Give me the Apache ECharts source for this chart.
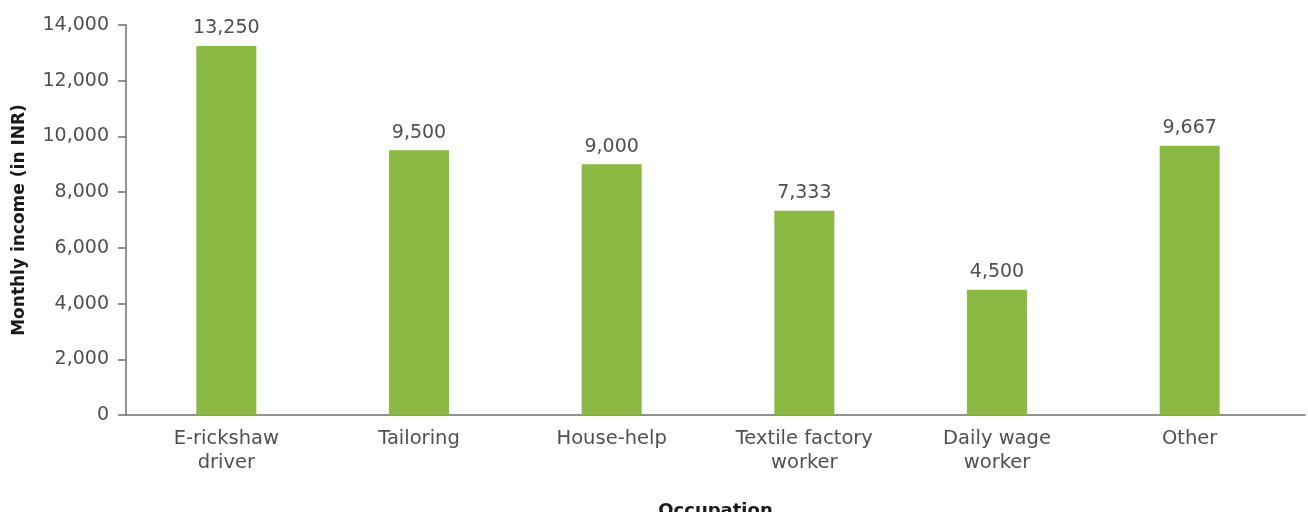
<!DOCTYPE html>
<html>
<head>
<meta charset="utf-8">
<script src="https://cdn.jsdelivr.net/npm/echarts@6/dist/echarts.min.js"></script>
<style>
  html, body { margin: 0; padding: 0; background: #fff; }
  #chart { width: 1308px; height: 512px; }
</style>
</head>
<body>
<div id="chart"></div>
<script>
// occupations and average monthly income
const categories = ['E-rickshaw\ndriver', 'Tailoring', 'House-help', 'Textile factory\nworker', 'Daily wage\nworker', 'Other']
const incomes = [13250, 9500, 9000, 7333, 4500, 9667]
const yTicks = [0, 2000, 4000, 6000, 8000, 10000, 12000, 14000]

const font = 'DejaVu Sans'
const textColor = '#505050'
const axisColor = '#6e6e6e'
const fmt = v => v.toLocaleString('en-US')

const chart = echarts.init(document.getElementById('chart'))

chart.setOption({
  animation: false,
  grid: [
    { left: 130, right: 22, top: 25, bottom: 97, outerBoundsMode: 'none' },
    // wider grid only to carry the full-length baseline and axis title
    { left: 126, right: 3, top: 25, bottom: 97, outerBoundsMode: 'none' }
  ],
  xAxis: [
    {
      type: 'category',
      gridIndex: 0,
      data: categories,
      axisLine: { show: false },
      axisTick: { show: false },
      axisLabel: {
        color: textColor,
        fontFamily: font,
        fontSize: 19.5,
        lineHeight: 24,
        margin: 12,
        interval: 0
      }
    },
    {
      type: 'value',
      gridIndex: 1,
      min: 0,
      max: 1,
      name: 'Occupation',
      nameLocation: 'middle',
      nameGap: 87,
      nameTextStyle: { color: '#1a1a1a', fontFamily: font, fontSize: 18, fontWeight: 'bold' },
      axisLine: { show: true, onZero: false, lineStyle: { color: axisColor, width: 1.5 } },
      axisTick: { show: false },
      axisLabel: { show: false },
      splitLine: { show: false }
    }
  ],
  yAxis: [
    {
      type: 'value',
      gridIndex: 0,
      min: yTicks[0],
      max: yTicks[yTicks.length - 1],
      interval: 2000,
      offset: 4,
      name: 'Monthly income (in INR)',
      nameLocation: 'middle',
      nameGap: 98,
      nameTextStyle: { color: '#1a1a1a', fontFamily: font, fontSize: 17, fontWeight: 'bold' },
      axisLine: { show: true, lineStyle: { color: axisColor, width: 1.5 } },
      axisTick: { show: true, length: 8, lineStyle: { color: axisColor, width: 1.5 } },
      axisLabel: { color: textColor, fontFamily: font, fontSize: 19, margin: 17, formatter: fmt },
      splitLine: { show: false }
    },
    {
      type: 'value',
      gridIndex: 1,
      min: 0,
      max: 1,
      show: false
    }
  ],
  series: [
    {
      type: 'bar',
      xAxisIndex: 0,
      yAxisIndex: 0,
      data: incomes,
      barWidth: 60,
      itemStyle: { color: '#8aba41' },
      label: {
        show: true,
        position: 'top',
        distance: 8,
        color: textColor,
        fontFamily: font,
        fontSize: 19,
        formatter: p => fmt(p.value)
      }
    }
  ]
})
</script>
</body>
</html>
